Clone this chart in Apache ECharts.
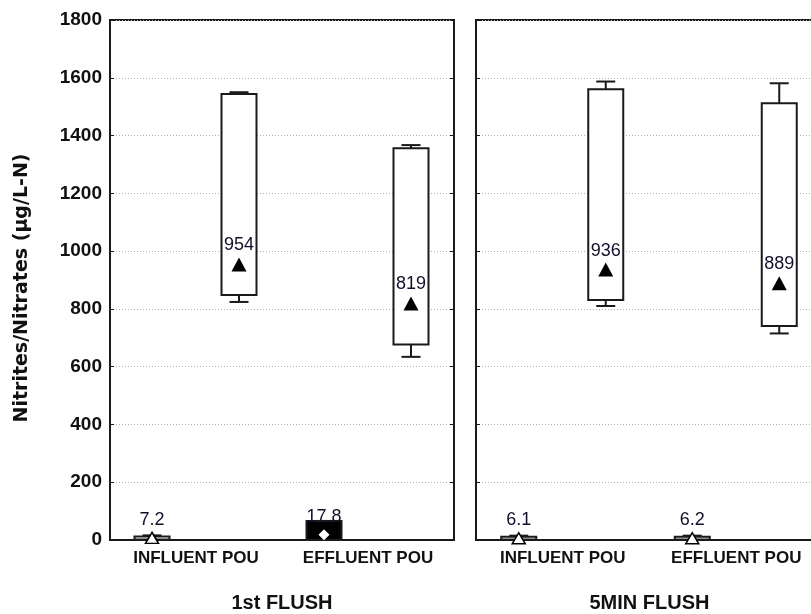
<!DOCTYPE html>
<html>
<head>
<meta charset="utf-8">
<script src="https://cdn.jsdelivr.net/npm/echarts@6/dist/echarts.min.js"></script>
<style>
html,body{margin:0;padding:0;background:#fff;}
#chart{width:811px;height:614px;}
</style>
</head>
<body>
<div id="chart"></div>
<script>
// ---- data ----
const categories = ['INFLUENT POU', 'EFFLUENT POU'];
const panels = ['1st FLUSH', '5MIN FLUSH'];
const yTitle = 'Nitrites/Nitrates (µg/L-N)';
const yTicks = [0, 200, 400, 600, 800, 1000, 1200, 1400, 1600, 1800];

// boxes: [min, q1, q3, max] per category
const flush1Nitrite = [[0.5, 1.5, 12, 16], [0, 0.5, 66, 66]];
const flush1Nitrate = [[824, 848, 1544, 1550], [634, 677, 1356, 1367]];
const flush5Nitrite = [[0.5, 1.5, 11, 15], [0.5, 1.5, 11, 15]];
const flush5Nitrate = [[810, 831, 1560, 1587], [715, 741, 1512, 1581]];

// means
const flush1NitriteMean = [7.2, 17.8];
const flush1NitrateMean = [954, 819];
const flush5NitriteMean = [6.1, 6.2];
const flush5NitrateMean = [936, 889];

// ---- rendering ----
const chart = echarts.init(document.getElementById('chart'));
const LINE = '#1a1a1a';
const FONT = '"Liberation Sans", Arial, sans-serif';
const OFF_L = -44, OFF_R = 43;

function boxRender(offset, filledIdx) {
  return function (params, api) {
    const cat = api.value(0);
    const x = api.coord([cat, 0])[0] + offset;
    const yMin = api.coord([cat, api.value(1)])[1];
    const yQ1 = api.coord([cat, api.value(2)])[1];
    const yQ3 = api.coord([cat, api.value(3)])[1];
    const yMax = api.coord([cat, api.value(4)])[1];
    const hw = 17.5, cw = 9.5;
    const filled = filledIdx.indexOf(params.dataIndex) >= 0;
    const ls = {stroke: LINE, lineWidth: 2};
    return {
      type: 'group',
      children: [
        {type: 'line', shape: {x1: x, y1: yQ3, x2: x, y2: yMax}, style: ls},
        {type: 'line', shape: {x1: x - cw, y1: yMax, x2: x + cw, y2: yMax}, style: ls},
        {type: 'line', shape: {x1: x, y1: yQ1, x2: x, y2: yMin}, style: ls},
        {type: 'line', shape: {x1: x - cw, y1: yMin, x2: x + cw, y2: yMin}, style: ls},
        {type: 'rect', shape: {x: x - hw, y: yQ3, width: hw * 2, height: Math.max(yQ1 - yQ3, 1)},
          style: {fill: filled ? '#000' : '#fff', stroke: LINE, lineWidth: 2}}
      ]
    };
  };
}

function boxSeries(idx, boxes, offset, filledIdx) {
  return {
    type: 'custom', xAxisIndex: idx, yAxisIndex: idx, z: 3,
    renderItem: boxRender(offset, filledIdx || []),
    encode: {x: 0, y: [1, 2, 3, 4]},
    data: boxes.map((b, i) => [i].concat(b)),
    clip: false
  };
}

const labelStyle = {
  show: true, position: 'top', distance: 3,
  formatter: p => String(p.value[1]),
  fontFamily: FONT, fontSize: 18, color: '#10102a'
};

function meanSeries(idx, means, offset, small, diamondIdx) {
  return {
    type: 'scatter', xAxisIndex: idx, yAxisIndex: idx, z: 5,
    symbol: 'triangle', symbolSize: small ? [13, 11] : [15, 14],
    symbolOffset: [offset, 0],
    itemStyle: small ? {color: '#fff', borderColor: '#000', borderWidth: 1.5, opacity: 1} : {color: '#000', opacity: 1},
    label: labelStyle,
    data: means.map((m, i) => {
      const d = {value: [i, m]};
      if (diamondIdx && diamondIdx.indexOf(i) >= 0) {
        d.symbol = 'diamond'; d.symbolSize = 11;
        d.itemStyle = {color: '#fff', borderWidth: 0, opacity: 1};
      }
      return d;
    })
  };
}

const grids = [
  {left: 110, top: 20, width: 344, height: 520},
  {left: 476, top: 20, width: 347, height: 520}
];

const yAxes = [0, 1].map(i => ({
  type: 'value', gridIndex: i, min: 0, max: 1800, interval: 200,
  axisLine: {show: true, lineStyle: {color: LINE, width: 2}},
  axisTick: {show: true, inside: true, length: 4, lineStyle: {color: LINE}},
  axisLabel: {show: i === 0, fontFamily: FONT, fontWeight: 'bold', fontSize: 19, color: '#111', margin: 8,
    formatter: v => yTicks.indexOf(v) >= 0 ? String(v) : ''},
  splitLine: {show: true, lineStyle: {color: '#b0b0b0', type: [1, 2], width: 1}}
}));
// right-side inward ticks on the first panel frame
yAxes.push({
  type: 'value', gridIndex: 0, position: 'right', min: 0, max: 1800, interval: 200,
  axisLine: {show: true, lineStyle: {color: LINE, width: 2}},
  axisTick: {show: true, inside: true, length: 4, lineStyle: {color: LINE}},
  axisLabel: {show: false}, splitLine: {show: false}
});

const option = {
  animation: false,
  backgroundColor: '#fff',
  grid: grids.map(g => Object.assign({
    show: true, borderColor: LINE, borderWidth: 2, backgroundColor: 'transparent',
    containLabel: false, outerBoundsMode: 'none'
  }, g)),
  graphic: [{
    type: 'text', x: 22, y: 288, rotation: Math.PI / 2,
    style: {text: yTitle, font: 'bold 19px "DejaVu Sans", sans-serif', fill: '#111',
      textAlign: 'center', textVerticalAlign: 'middle', align: 'center', verticalAlign: 'middle'}
  }],
  xAxis: [0, 1].map(i => ({
    type: 'category', gridIndex: i, data: categories,
    axisLine: {lineStyle: {color: LINE, width: 2}},
    axisTick: {inside: true, alignWithLabel: true, length: 5, lineStyle: {color: LINE, width: 1}},
    axisLabel: {fontFamily: FONT, fontWeight: 'bold', fontSize: 17, color: '#111', margin: 10, interval: 0},
    name: panels[i], nameLocation: 'middle', nameGap: 53,
    nameTextStyle: {fontFamily: FONT, fontWeight: 'bold', fontSize: 20, color: '#111'}
  })),
  yAxis: yAxes,
  series: [
    boxSeries(0, flush1Nitrite, OFF_L, [1]),
    boxSeries(0, flush1Nitrate, OFF_R),
    boxSeries(1, flush5Nitrite, OFF_L),
    boxSeries(1, flush5Nitrate, OFF_R),
    meanSeries(0, flush1NitriteMean, OFF_L, true, [1]),
    meanSeries(0, flush1NitrateMean, OFF_R, false),
    meanSeries(1, flush5NitriteMean, OFF_L, true),
    meanSeries(1, flush5NitrateMean, OFF_R, false)
  ]
};
chart.setOption(option);
</script>
</body>
</html>
